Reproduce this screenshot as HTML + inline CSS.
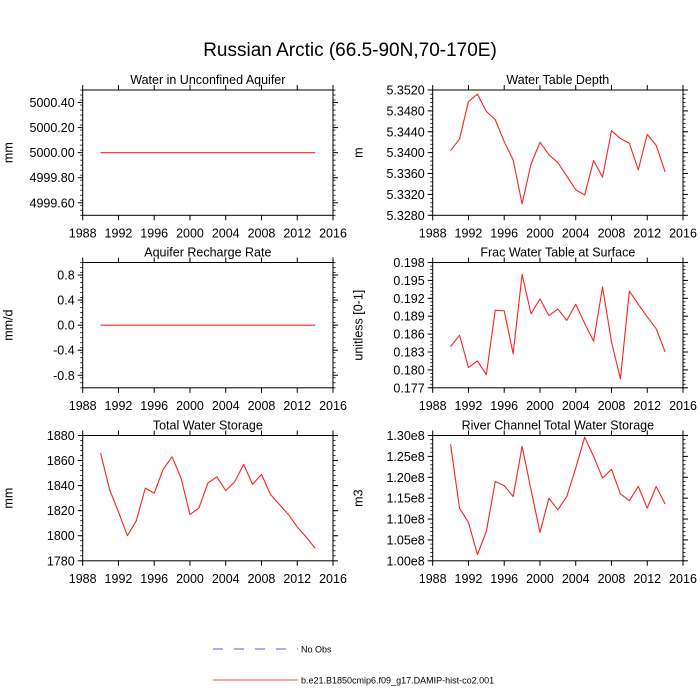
<!DOCTYPE html>
<html><head><meta charset="utf-8">
<style>
html,body{margin:0;padding:0;background:#fff;}
svg{display:block;font-family:"Liberation Sans",Arial,sans-serif;}
</style></head>
<body>
<svg id="chart" width="700" height="700" xmlns="http://www.w3.org/2000/svg">
<text x="350" y="56" text-anchor="middle" font-size="19">Russian Arctic (66.5-90N,70-170E)</text>
<g>
<line x1="213" y1="649" x2="298" y2="649" stroke="#5555ff" stroke-width="1" stroke-dasharray="10,11"/>
<text x="301" y="652.5" font-size="9">No Obs</text>
<line x1="213" y1="680" x2="298" y2="680" stroke="#ff4444" stroke-width="1"/>
<text x="301" y="683.5" font-size="9">b.e21.B1850cmip6.f09_g17.DAMIP-hist-co2.001</text>
</g>
</svg>
<script>
const years = [1990,1991,1992,1993,1994,1995,1996,1997,1998,1999,2000,2001,2002,2003,2004,2005,2006,2007,2008,2009,2010,2011,2012,2013,2014];
const aquiferWater = [5000,5000,5000,5000,5000,5000,5000,5000,5000,5000,5000,5000,5000,5000,5000,5000,5000,5000,5000,5000,5000,5000,5000,5000,5000];
const rechargeRate = [0,0,0,0,0,0,0,0,0,0,0,0,0,0,0,0,0,0,0,0,0,0,0,0,0];
const waterTableDepth = [5.3404,5.3426,5.3498,5.3512,5.3479,5.3463,5.3421,5.3386,5.3302,5.3378,5.3420,5.3396,5.3381,5.3355,5.3329,5.3319,5.3385,5.3353,5.3442,5.3427,5.3418,5.3367,5.3435,5.3414,5.3363];
const fracSurface = [0.1839,0.1858,0.1804,0.1815,0.1792,0.1900,0.1899,0.1827,0.1960,0.1894,0.1919,0.1891,0.1902,0.1883,0.1910,0.1878,0.1848,0.1939,0.1847,0.1785,0.1932,0.1910,0.1889,0.1869,0.1830];
const totalStorage = [1866,1837,1819,1800,1812,1838,1834,1853,1863,1846,1817,1822,1842,1847,1836,1843,1857,1841,1849,1833,1825,1817,1807,1799,1790];
const riverStorage = [1.279,1.126,1.092,1.015,1.070,1.190,1.180,1.154,1.274,1.170,1.068,1.150,1.122,1.154,1.222,1.296,1.250,1.198,1.219,1.160,1.144,1.178,1.126,1.178,1.136];
const xTicks = [1988,1992,1996,2000,2004,2008,2012,2016];
const ticksAquifer = ["4999.60","4999.80","5000.00","5000.20","5000.40"];
const ticksRecharge = ["-0.8","-0.4","0.0","0.4","0.8"];
const ticksDepth = ["5.3280","5.3320","5.3360","5.3400","5.3440","5.3480","5.3520"];
const ticksFrac = ["0.177","0.180","0.183","0.186","0.189","0.192","0.195","0.198"];
const ticksStorage = ["1780","1800","1820","1840","1860","1880"];
const ticksRiver = ["1.00e8","1.05e8","1.10e8","1.15e8","1.20e8","1.25e8","1.30e8"];

const NS="http://www.w3.org/2000/svg";
const svg=document.getElementById('chart');
function mk(tag,attrs,parent){const e=document.createElementNS(NS,tag);for(const k in attrs)e.setAttribute(k,attrs[k]);(parent||svg).appendChild(e);return e;}

const panels=[
 {name:'aquifer-water',title:'Water in Unconfined Aquifer',unit:'mm',x0:82.7,y0:90,data:aquiferWater,ymin:4999.5,ymax:5000.5,ticks:ticksAquifer,minor:0.04,scale:1},
 {name:'water-table-depth',title:'Water Table Depth',unit:'m',x0:432.7,y0:90,data:waterTableDepth,ymin:5.328,ymax:5.352,ticks:ticksDepth,minor:0.0008,scale:1},
 {name:'recharge-rate',title:'Aquifer Recharge Rate',unit:'mm/d',x0:82.7,y0:262.5,data:rechargeRate,ymin:-1,ymax:1,ticks:ticksRecharge,minor:0.08,scale:1},
 {name:'frac-surface',title:'Frac Water Table at Surface',unit:'unitless [0-1]',x0:432.7,y0:262.5,data:fracSurface,ymin:0.177,ymax:0.198,ticks:ticksFrac,minor:0.0006,scale:1},
 {name:'total-storage',title:'Total Water Storage',unit:'mm',x0:82.7,y0:435.5,data:totalStorage,ymin:1780,ymax:1880,ticks:ticksStorage,minor:4,scale:1},
 {name:'river-storage',title:'River Channel Total Water Storage',unit:'m3',x0:432.7,y0:435.5,data:riverStorage,ymin:1.0,ymax:1.3,ticks:ticksRiver,minor:0.01,scale:1e8}
];
const W=250.3,H=125.3;
panels.forEach(p=>{
 const g=mk('g',{});
 
 
 const xs=v=>p.x0+(v-1988)/(2016-1988)*W;
 const ys=v=>p.y0+H-(v-p.ymin)/(p.ymax-p.ymin)*H;
 const t=mk('text',{x:p.x0+W/2,y:p.y0-6,'text-anchor':'middle','font-size':'12.5'},g);
 t.textContent=p.title;
 
 
 const box=mk('rect',{x:p.x0,y:p.y0,width:W,height:H,fill:'none',stroke:'#000','stroke-width':'1'},g);
 
 
 const nMinor=Math.round((p.ymax-p.ymin)/p.minor);
 for(let i=0;i<=nMinor;i++){const y=ys(p.ymin+i*p.minor);
  mk('line',{x1:p.x0-2.5,x2:p.x0,y1:y,y2:y,stroke:'#000','stroke-width':'0.8'},g);
  mk('line',{x1:p.x0+W,x2:p.x0+W+2.5,y1:y,y2:y,stroke:'#000','stroke-width':'0.8'},g);}
 p.ticks.forEach(lbl=>{const y=ys(parseFloat(lbl)/p.scale);
  mk('line',{x1:p.x0-5,x2:p.x0,y1:y,y2:y,stroke:'#000','stroke-width':'1'},g);
  mk('line',{x1:p.x0+W,x2:p.x0+W+5,y1:y,y2:y,stroke:'#000','stroke-width':'1'},g);
  const tt=mk('text',{x:p.x0-8,y:y+4.5,'text-anchor':'end','font-size':'12.5'},g);
  tt.textContent=lbl;
  
  });
 xTicks.forEach(v=>{const x=xs(v);
  mk('line',{x1:x,x2:x,y1:p.y0+H,y2:p.y0+H+5,stroke:'#000','stroke-width':'1'},g);
  mk('line',{x1:x,x2:x,y1:p.y0-5,y2:p.y0,stroke:'#000','stroke-width':'1'},g);
  const tt=mk('text',{x:x,y:p.y0+H+22,'text-anchor':'middle','font-size':'12.5'},g);
  tt.textContent=String(v);
  
  });
 const lx=p.x0-70;
 const yt=mk('text',{x:lx,y:p.y0+H/2,'text-anchor':'middle','font-size':'12.5',transform:'rotate(-90 '+lx+' '+(p.y0+H/2)+')'},g);
 yt.textContent=p.unit;
 
 
 const pts=years.map((yr,i)=>xs(yr).toFixed(2)+','+ys(p.data[i]).toFixed(2)).join(' ');
 const pl=mk('polyline',{points:pts,fill:'none',stroke:'#ff2020','stroke-width':'1.1','stroke-linejoin':'round'},g);
 
 
});
</script>
</body></html>
